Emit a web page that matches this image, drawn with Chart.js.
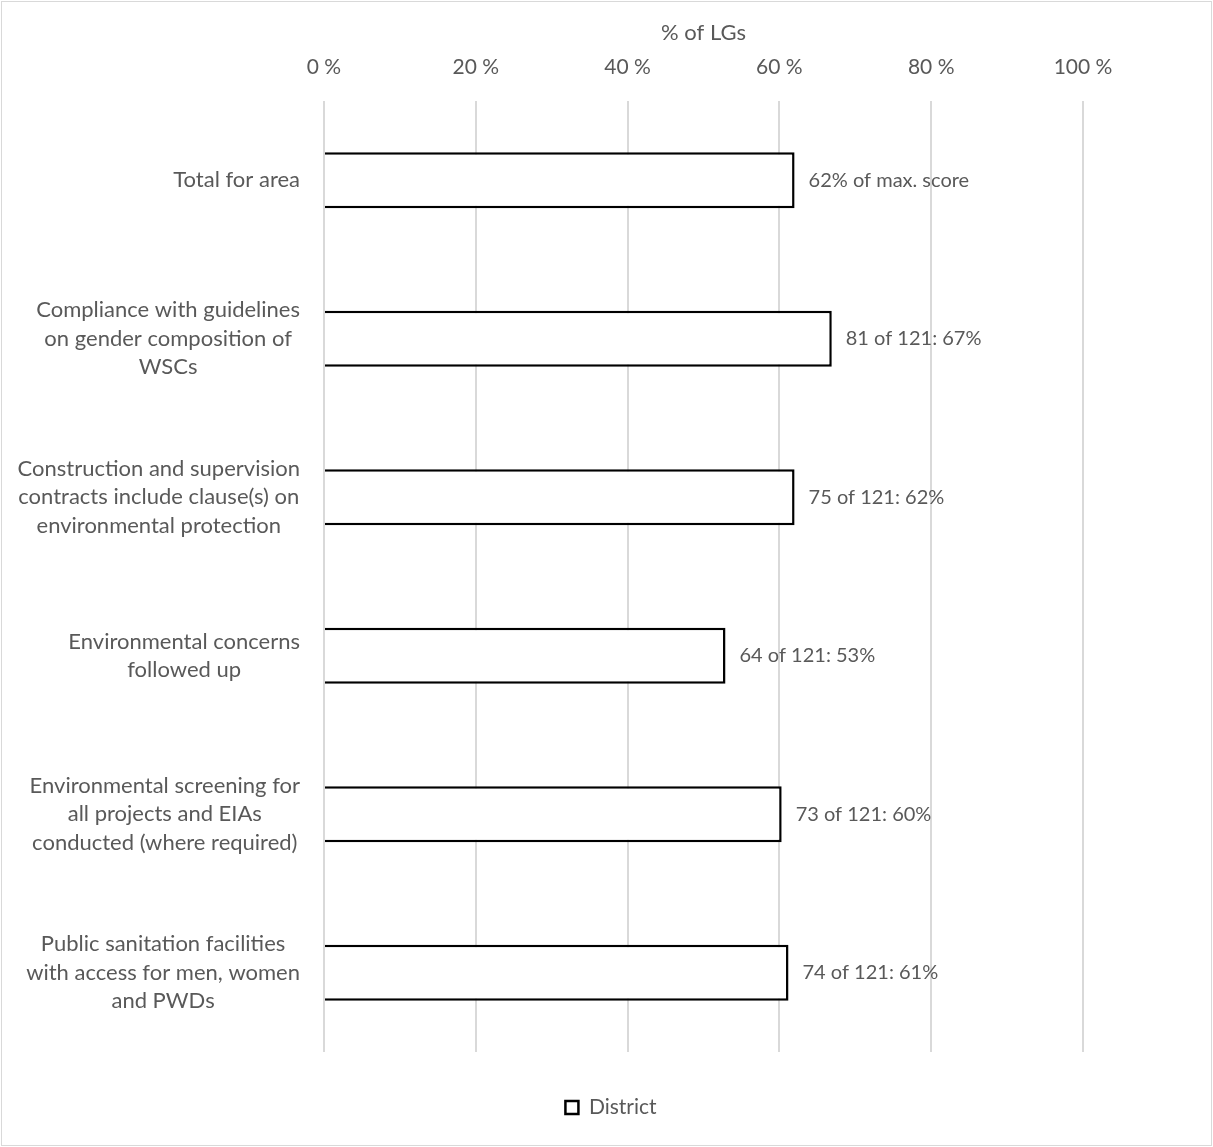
<!DOCTYPE html>
<html>
<head>
<meta charset="utf-8">
<script src="https://cdn.jsdelivr.net/npm/chart.js@4.4.1/dist/chart.umd.min.js"></script>
<style>
  html, body { margin: 0; padding: 0; background: #ffffff; }
  #wrap { width: 1213px; height: 1147px; position: relative; }
</style>
</head>
<body>
<div id="wrap"><canvas id="c" width="1213" height="1147"></canvas></div>
<script>
// ---- data ----
const categories = [
  ["Total for area"],
  ["Compliance with guidelines", "on gender composition of", "WSCs"],
  ["Construction and supervision", "contracts include clause(s) on", "environmental protection"],
  ["Environmental concerns", "followed up"],
  ["Environmental screening for", "all projects and EIAs", "conducted (where required)"],
  ["Public sanitation facilities", "with access for men, women", "and PWDs"]
];
const districtValues = [62, 66.9, 62.0, 52.9, 60.3, 61.2];
const valueLabels = [
  "62% of max. score",
  "81 of 121: 67%",
  "75 of 121: 62%",
  "64 of 121: 53%",
  "73 of 121: 60%",
  "74 of 121: 61%"
];
const xTicks = [0, 20, 40, 60, 80, 100];
const seriesName = "District";
const axisTitle = "% of LGs";

// ---- style ----
const FONT = "Lato, 'Open Sans', sans-serif";
const TEXT = "#595959";

const frame = {
  id: 'frame',
  beforeDraw(chart) {
    const ctx = chart.ctx;
    ctx.save();
    ctx.fillStyle = '#ffffff';
    ctx.fillRect(0, 0, chart.width, chart.height);
    ctx.strokeStyle = '#d9d9d9';
    ctx.lineWidth = 1;
    ctx.strokeRect(1.5, 1.5, chart.width - 3, chart.height - 3);
    ctx.restore();
  }
};

const catLabels = {
  id: 'catLabels',
  afterDraw(chart) {
    const ctx = chart.ctx;
    const ys = chart.scales.y;
    const right = chart.chartArea.left - 24;
    const lh = 28.5;
    ctx.save();
    ctx.font = "22px " + FONT;
    ctx.fillStyle = TEXT;
    ctx.textAlign = 'center';
    ctx.textBaseline = 'middle';
    categories.forEach((lines, i) => {
      const y = ys.getPixelForTick(i);
      let w = 0;
      lines.forEach(l => { w = Math.max(w, ctx.measureText(l).width); });
      const cx = right - w / 2;
      const y0 = y - (lines.length - 1) * lh / 2;
      lines.forEach((l, k) => ctx.fillText(l, cx, y0 + k * lh));
    });
    ctx.restore();
  }
};

const valLabels = {
  id: 'valLabels',
  afterDatasetsDraw(chart) {
    const ctx = chart.ctx;
    const meta = chart.getDatasetMeta(0);
    ctx.save();
    ctx.font = "20px " + FONT;
    ctx.fillStyle = TEXT;
    ctx.textAlign = 'left';
    ctx.textBaseline = 'middle';
    meta.data.forEach((bar, i) => {
      ctx.fillText(valueLabels[i], bar.x + 14, bar.y);
    });
    ctx.restore();
  }
};

new Chart(document.getElementById('c'), {
  type: 'bar',
  data: {
    labels: categories,
    datasets: [{
      label: seriesName,
      data: districtValues,
      backgroundColor: '#ffffff',
      borderColor: '#000000',
      borderWidth: 2.5,
      categoryPercentage: 1,
      barPercentage: 0.352
    }]
  },
  options: {
    indexAxis: 'y',
    responsive: false,
    animation: false,
    layout: { padding: { left: 139, right: 130, top: 0, bottom: 19 } },
    scales: {
      x: {
        position: 'top',
        min: 0,
        max: 100,
        afterBuildTicks(scale) { scale.ticks = xTicks.map(v => ({ value: v })); },
        afterFit(scale) { scale.height = 101; },
        ticks: {
          padding: 21,
          color: TEXT,
          font: { family: FONT, size: 21 },
          callback: v => v + ' %'
        },
        grid: { color: '#d9d9d9', lineWidth: 2, drawTicks: false },
        border: { display: false },
        title: {
          display: true,
          text: axisTitle,
          color: TEXT,
          font: { family: FONT, size: 22 },
          padding: { top: 20, bottom: 0 }
        }
      },
      y: {
        afterFit(scale) { scale.width = 324 - 139; },
        ticks: { display: false },
        grid: { display: false },
        border: { display: false }
      }
    },
    plugins: {
      legend: {
        position: 'bottom',
        labels: {
          color: TEXT,
          font: { family: FONT, size: 21 },
          boxWidth: 13,
          boxHeight: 13,
          padding: 45,
          generateLabels(chart) {
            return [{
              text: seriesName,
              fillStyle: '#ffffff',
              strokeStyle: '#000000',
              lineWidth: 2.5,
              fontColor: TEXT,
              datasetIndex: 0
            }];
          }
        }
      },
      tooltip: { enabled: false }
    }
  },
  plugins: [frame, catLabels, valLabels]
});
</script>
</body>
</html>
